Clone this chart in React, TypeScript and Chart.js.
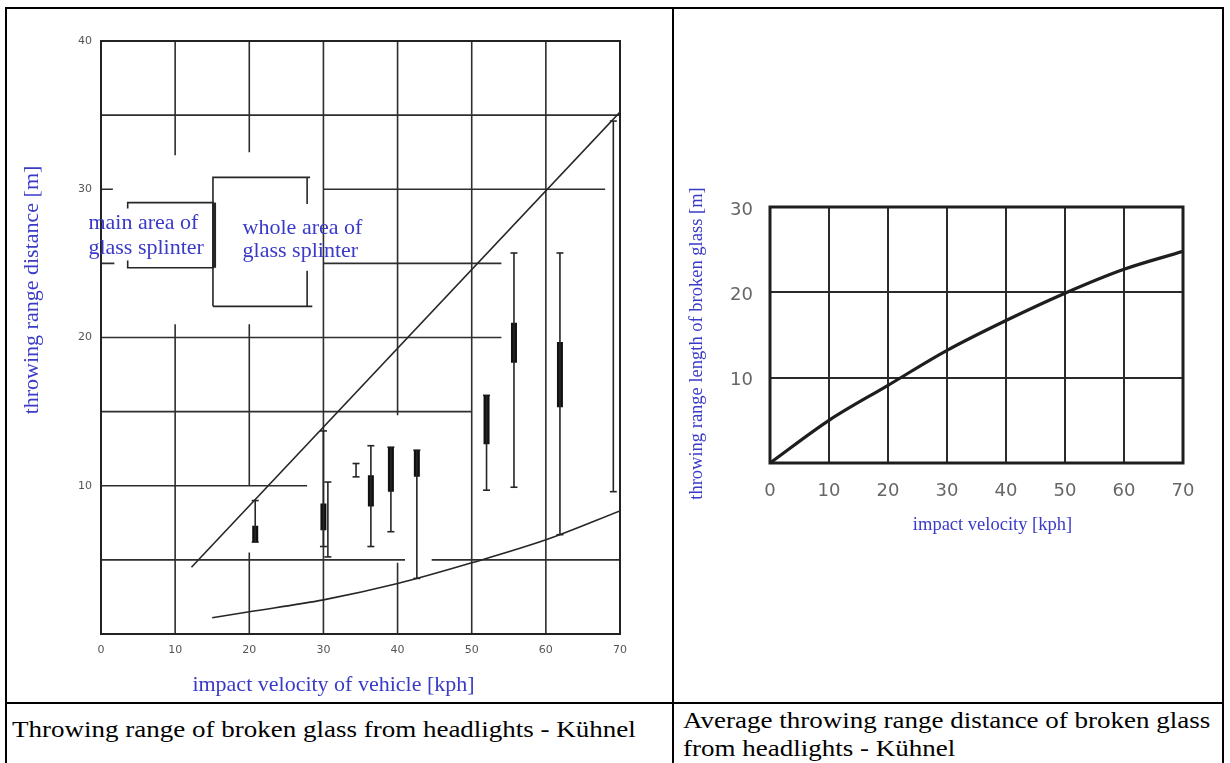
import React, { useEffect, useRef } from "react";
import { Chart, registerables } from "chart.js";

Chart.register(...registerables);

// ---------- Left chart: throwing range of glass splinters (Kühnel) ----------
const LEFT_X_TICKS = [0, 10, 20, 30, 40, 50, 60, 70];
const LEFT_Y_TICKS = [0, 10, 20, 30, 40];
const UPPER_LINE_X = [12.2, 70];
const UPPER_LINE_Y = [4.5, 35.2];
const LOWER_CURVE_X = [15, 20, 30, 40, 50, 60, 70];
const LOWER_CURVE_Y = [1.1, 1.5, 2.3, 3.4, 4.8, 6.35, 8.3];
// individual tests: impact speed, whole area (min/max), main area (low/high)
const TEST_SPEED = [20.8, 30.0, 30.6, 34.4, 36.4, 39.1, 42.6, 52.0, 55.7, 61.9, 69.1];
const WHOLE_MIN = [6.2, 5.9, 5.2, 10.6, 5.9, 6.9, 3.75, 9.7, 9.9, 6.7, 9.6];
const WHOLE_MAX = [9.0, 13.7, 10.25, 11.5, 12.7, 12.6, 12.4, 16.1, 25.7, 25.7, 34.6];
const MAIN_LOW = [6.2, 7.0, null, null, 8.6, 9.6, 10.6, 12.8, 18.3, 15.3, null];
const MAIN_HIGH = [7.3, 8.8, null, null, 10.7, 12.6, 12.4, 16.1, 21.0, 19.7, null];
// key (legend) brackets, in data units
const KEY_MAIN_THICK = [[[15.25, 24.7], [15.25, 29.1]]];
const KEY_THIN = [
  [[3.6, 28.7], [3.6, 29.1], [15.25, 29.1]],
  [[3.6, 25.2], [3.6, 24.7], [15.25, 24.7]],
  [[15.1, 22.1], [15.1, 30.8], [28.2, 30.8]],
  [[27.8, 30.8], [27.8, 29.0]],
  [[15.1, 22.1], [28.5, 22.1]],
  [[27.8, 24.5], [27.8, 22.1]],
];
const KEY_TEXT_MAIN = ["main area of", "glass splinter"];
const KEY_TEXT_WHOLE = ["whole area of", "glass splinter"];
const KEY_TEXT_MAIN_POS = [-1.7, 27.7, 26.0];
const KEY_TEXT_WHOLE_POS = [19.1, 27.4, 25.8];
// partial grid of the scanned diagram: [value, from, to]
const H_GRID = [
  [5, 0, 41], [5, 44.6, 70], [10, 0, 27.8], [15, 0, 50], [20, 0, 54],
  [25, 30, 54], [25, 0, 1.8], [30, 30, 68], [30, 0, 1.6], [35, 0, 70],
];
const V_GRID = [
  [10, 0, 20.9], [10, 32.3, 40], [20, 0, 5.5], [20, 10, 20.9], [20, 32.5, 40],
  [30, 0, 40], [40, 0, 4.8], [40, 14.75, 40], [50, 0, 40], [60, 0, 40],
];
const LEFT_X_TITLE = "impact velocity of vehicle [kph]";
const LEFT_Y_TITLE = "throwing range distance [m]";

// ---------- Right chart: average throwing range ----------
const RIGHT_X = [0, 10, 20, 30, 40, 50, 60, 70];
const RIGHT_Y = [0, 5.0, 9.1, 13.2, 16.7, 19.9, 22.7, 24.8];
const RIGHT_X_TICKS = [0, 10, 20, 30, 40, 50, 60, 70];
const RIGHT_Y_TICKS = [0, 10, 20, 30];
const RIGHT_X_TITLE = "impact velocity [kph]";
const RIGHT_Y_TITLE = "throwing range length of broken glass [m]";

const CAPTION_LEFT = "Throwing range of broken glass from headlights - Kühnel";
const CAPTION_RIGHT_1 = "Average throwing range distance of broken glass";
const CAPTION_RIGHT_2 = "from headlights - Kühnel";

const BLUE = "#3a3ac8";
const INK = "#262626";
const SERIF = '"Liberation Serif", "Times New Roman", serif';

function gapped(segments: number[][][]) {
  const pts: { x: number; y: number | null }[] = [];
  segments.forEach((seg) => {
    seg.forEach(([x, y]) => pts.push({ x, y }));
    pts.push({ x: seg[seg.length - 1][0], y: null });
  });
  return pts;
}

function pairs(xs: number[], ys: number[]) {
  return xs.map((x, i) => ({ x, y: ys[i] }));
}

function drawText(ctx: CanvasRenderingContext2D, text: string, x: number, y: number, font: string, align: CanvasTextAlign, rot = 0) {
  ctx.save();
  ctx.translate(x, y);
  if (rot) ctx.rotate(rot);
  ctx.font = font;
  ctx.fillStyle = BLUE;
  ctx.textAlign = align;
  ctx.textBaseline = "middle";
  ctx.fillText(text, 0, 0);
  ctx.restore();
}

const leftDecor = {
  id: "leftDecor",
  beforeDatasetsDraw(chart: any) {
    const { ctx, chartArea, scales } = chart;
    const xs = scales.x;
    const ys = scales.y;
    ctx.save();
    ctx.strokeStyle = "#2e2e2e";
    ctx.lineWidth = 1.6;
    ctx.beginPath();
    H_GRID.forEach(([v, a, b]) => {
      const py = ys.getPixelForValue(v);
      ctx.moveTo(xs.getPixelForValue(a), py);
      ctx.lineTo(xs.getPixelForValue(b), py);
    });
    V_GRID.forEach(([v, a, b]) => {
      const px = xs.getPixelForValue(v);
      ctx.moveTo(px, ys.getPixelForValue(a));
      ctx.lineTo(px, ys.getPixelForValue(b));
    });
    ctx.stroke();
    ctx.lineWidth = 2;
    ctx.strokeStyle = "#222";
    ctx.strokeRect(chartArea.left, chartArea.top, chartArea.right - chartArea.left, chartArea.bottom - chartArea.top);
    ctx.restore();
  },
  afterDraw(chart: any) {
    const { ctx, chartArea, scales } = chart;
    const xs = scales.x;
    const ys = scales.y;
    const keyFont = `22px ${SERIF}`;
    KEY_TEXT_MAIN.forEach((t, i) =>
      drawText(ctx, t, xs.getPixelForValue(KEY_TEXT_MAIN_POS[0]), ys.getPixelForValue(KEY_TEXT_MAIN_POS[i + 1]), keyFont, "left"));
    KEY_TEXT_WHOLE.forEach((t, i) =>
      drawText(ctx, t, xs.getPixelForValue(KEY_TEXT_WHOLE_POS[0]), ys.getPixelForValue(KEY_TEXT_WHOLE_POS[i + 1]), keyFont, "left"));
    drawText(ctx, LEFT_X_TITLE, chartArea.left + 232.5, chartArea.bottom + 51, `22px ${SERIF}`, "center");
    drawText(ctx, LEFT_Y_TITLE, chartArea.left - 69, chartArea.top + 249, `22px ${SERIF}`, "center", -Math.PI / 2);
  },
};

const rightDecor = {
  id: "rightDecor",
  afterDatasetsDraw(chart: any) {
    const { ctx, chartArea } = chart;
    ctx.save();
    ctx.lineWidth = 3;
    ctx.strokeStyle = "#1e1e1e";
    ctx.strokeRect(chartArea.left, chartArea.top, chartArea.right - chartArea.left, chartArea.bottom - chartArea.top);
    ctx.restore();
  },
  afterDraw(chart: any) {
    const { ctx, chartArea } = chart;
    drawText(ctx, RIGHT_X_TITLE, chartArea.left + 222.5, chartArea.bottom + 62, `18.5px ${SERIF}`, "center");
    drawText(ctx, RIGHT_Y_TITLE, chartArea.left - 73, chartArea.top + 136.5, `18.5px ${SERIF}`, "center", -Math.PI / 2);
  },
};

function leftConfig(): any {
  const whiskers = gapped(TEST_SPEED.map((s, i) => [[s, WHOLE_MIN[i]], [s, WHOLE_MAX[i]]]));
  const mainBars = gapped(
    TEST_SPEED.map((s, i) => (MAIN_LOW[i] == null ? null : [[s, MAIN_LOW[i] as number], [s, MAIN_HIGH[i] as number]])).filter(Boolean) as number[][][]
  );
  const caps: { x: number; y: number }[] = [];
  TEST_SPEED.forEach((s, i) => {
    caps.push({ x: s, y: WHOLE_MIN[i] });
    caps.push({ x: s, y: WHOLE_MAX[i] });
  });
  const lineDefaults = { showLine: true, pointRadius: 0, borderColor: INK, spanGaps: false, fill: false };
  return {
    type: "scatter",
    data: {
      datasets: [
        { label: "upper limit", data: pairs(UPPER_LINE_X, UPPER_LINE_Y), borderWidth: 1.6, ...lineDefaults },
        { label: "lower limit", data: pairs(LOWER_CURVE_X, LOWER_CURVE_Y), borderWidth: 1.6, cubicInterpolationMode: "monotone", ...lineDefaults },
        { label: "whole area of glass splinter", data: whiskers, borderWidth: 1.6, ...lineDefaults },
        { label: "main area of glass splinter", data: mainBars, borderWidth: 6, borderColor: "#111", showLine: true, pointRadius: 0, spanGaps: false },
        { label: "ends", data: caps, pointStyle: "line", pointRadius: 3.5, borderWidth: 1.6, borderColor: INK, backgroundColor: INK, showLine: false },
        { label: "key whole", data: gapped(KEY_THIN), borderWidth: 1.6, ...lineDefaults },
        { label: "key main", data: gapped(KEY_MAIN_THICK), borderWidth: 4, ...lineDefaults },
      ],
    },
    options: {
      animation: false,
      responsive: false,
      devicePixelRatio: 1,
      layout: { padding: { left: 0, right: 52, top: 31, bottom: 0 } },
      plugins: { legend: { display: false }, tooltip: { enabled: false } },
      scales: {
        x: {
          type: "linear",
          min: 0,
          max: 70,
          afterBuildTicks: (s: any) => { s.ticks = LEFT_X_TICKS.map((v) => ({ value: v })); },
          afterFit: (s: any) => { s.height = 68; },
          grid: { display: false, drawTicks: false },
          border: { display: false },
          ticks: { padding: 10, color: "#555", font: { family: "DejaVu Sans", size: 11 }, maxRotation: 0, callback: (v: any) => String(v) },
        },
        y: {
          type: "linear",
          min: 0,
          max: 40,
          afterBuildTicks: (s: any) => { s.ticks = LEFT_Y_TICKS.map((v) => ({ value: v })); },
          afterFit: (s: any) => { s.width = 93; },
          grid: { display: false, drawTicks: false },
          border: { display: false },
          ticks: { padding: 9, color: "#555", font: { family: "DejaVu Sans", size: 11 }, callback: (v: any) => (v === 0 ? "" : String(v)) },
        },
      },
    },
    plugins: [leftDecor],
  };
}

function rightConfig(): any {
  return {
    type: "line",
    data: {
      datasets: [
        {
          label: "average throwing range",
          data: pairs(RIGHT_X, RIGHT_Y),
          borderColor: "#1e1e1e",
          borderWidth: 3.2,
          pointRadius: 0,
          cubicInterpolationMode: "monotone",
          fill: false,
        },
      ],
    },
    options: {
      animation: false,
      responsive: false,
      devicePixelRatio: 1,
      layout: { padding: { left: 0, right: 37, top: 197, bottom: 0 } },
      plugins: { legend: { display: false }, tooltip: { enabled: false } },
      scales: {
        x: {
          type: "linear",
          min: 0,
          max: 70,
          afterBuildTicks: (s: any) => { s.ticks = RIGHT_X_TICKS.map((v) => ({ value: v })); },
          afterFit: (s: any) => { s.height = 239; },
          grid: { color: "#2a2a2a", lineWidth: 2, drawTicks: false },
          border: { display: false },
          ticks: { padding: 18, color: "#666", font: { family: "DejaVu Sans", size: 18 }, maxRotation: 0, callback: (v: any) => String(v) },
        },
        y: {
          type: "linear",
          min: 0,
          max: 30,
          afterBuildTicks: (s: any) => { s.ticks = RIGHT_Y_TICKS.map((v) => ({ value: v })); },
          afterFit: (s: any) => { s.width = 90; },
          grid: { color: "#2a2a2a", lineWidth: 2, drawTicks: false },
          border: { display: false },
          ticks: { padding: 17, labelOffset: 3, color: "#666", font: { family: "DejaVu Sans", size: 18 }, callback: (v: any) => (v === 0 ? "" : String(v)) },
        },
      },
    },
    plugins: [rightDecor],
  };
}

const rule = (style: React.CSSProperties) => <div style={{ position: "absolute", background: "#000", ...style }} />;

export default function App() {
  const leftRef = useRef<HTMLCanvasElement>(null);
  const rightRef = useRef<HTMLCanvasElement>(null);

  useEffect(() => {
    const c1 = new Chart(leftRef.current as HTMLCanvasElement, leftConfig());
    const c2 = new Chart(rightRef.current as HTMLCanvasElement, rightConfig());
    return () => {
      c1.destroy();
      c2.destroy();
    };
  }, []);

  const captionStyle: React.CSSProperties = {
    position: "absolute",
    fontFamily: SERIF,
    fontSize: 24,
    lineHeight: "28.4px",
    color: "#000",
    whiteSpace: "nowrap",
    transform: "scaleX(1.125)",
    transformOrigin: "left top",
  };

  return (
    <div style={{ position: "fixed", left: 0, top: 0, width: 1230, height: 763, background: "#fff", overflow: "hidden" }}>
      {rule({ left: 5, top: 7, width: 1219, height: 2 })}
      {rule({ left: 5, top: 7, width: 2, height: 760 })}
      {rule({ left: 672, top: 7, width: 2, height: 760 })}
      {rule({ left: 1222, top: 7, width: 2, height: 760 })}
      {rule({ left: 5, top: 702, width: 1219, height: 2 })}
      <canvas ref={leftRef} width={664} height={692} style={{ position: "absolute", left: 8, top: 10, width: 664, height: 692 }} />
      <canvas ref={rightRef} width={540} height={692} style={{ position: "absolute", left: 680, top: 10, width: 540, height: 692 }} />
      <div style={{ ...captionStyle, left: 12, top: 715 }}>{CAPTION_LEFT}</div>
      <div style={{ ...captionStyle, left: 683, top: 706 }}>
        {CAPTION_RIGHT_1}
        <br />
        {CAPTION_RIGHT_2}
      </div>
    </div>
  );
}
